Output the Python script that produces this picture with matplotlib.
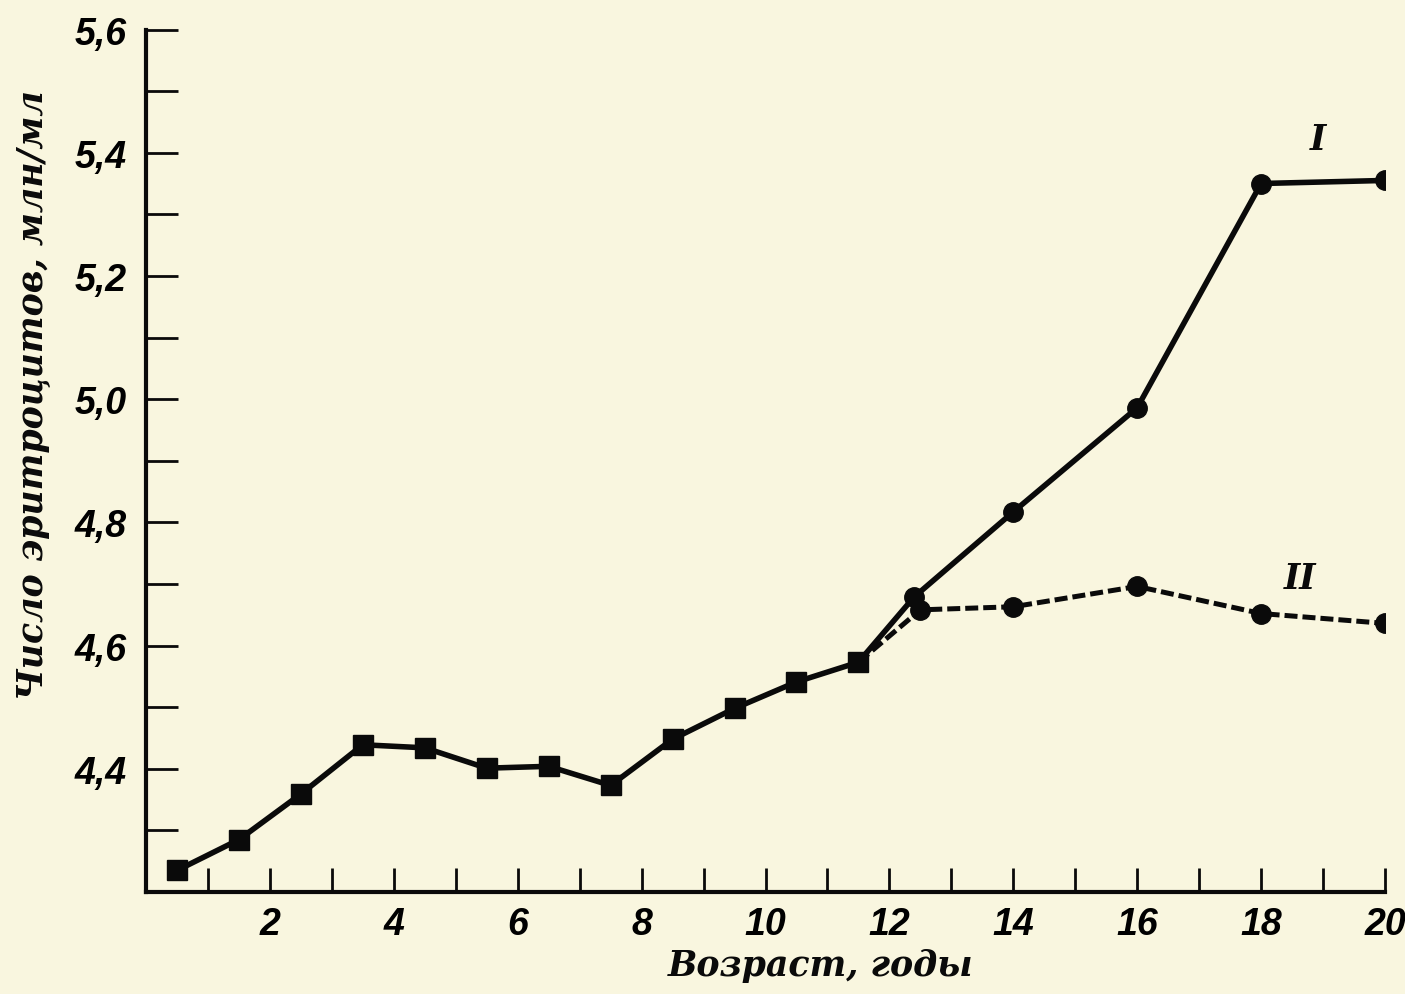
import matplotlib
matplotlib.use("Agg")
import matplotlib.pyplot as plt

# Data (age in years, erythrocytes mln/ml)
age_common = [0.5, 1.5, 2.5, 3.5, 4.5, 5.5, 6.5, 7.5, 8.5, 9.5, 10.5, 11.5]
rbc_common = [4.235, 4.285, 4.359, 4.439, 4.434, 4.401, 4.404, 4.373, 4.448, 4.498, 4.541, 4.573]

age_I = [11.5, 12.4, 14, 16, 18, 20]
rbc_I = [4.573, 4.679, 4.817, 4.986, 5.350, 5.355]

age_II = [11.5, 12.5, 14, 16, 18, 20]
rbc_II = [4.573, 4.658, 4.663, 4.696, 4.652, 4.636]

x_major = [2, 4, 6, 8, 10, 12, 14, 16, 18, 20]
x_minor = list(range(1, 21))
x_labels = ["2", "4", "6", "8", "10", "12", "14", "16", "18", "20"]
y_major = [4.4, 4.6, 4.8, 5.0, 5.2, 5.4, 5.6]
y_minor = [4.3, 4.4, 4.5, 4.6, 4.7, 4.8, 4.9, 5.0, 5.1, 5.2, 5.3, 5.4, 5.5, 5.6]
y_labels = ["4,4", "4,6", "4,8", "5,0", "5,2", "5,4", "5,6"]

series_labels = ["I", "II"]
xlabel = "Возраст, годы"
ylabel = "Число эритроцитов, млн/мл"

bg = "#f9f6df"
ink = "#0a0a0a"

fig = plt.figure(figsize=(14.05, 9.95), dpi=100, facecolor=bg)
ax = fig.add_axes([146/1405, 1-893/995, (1385-146)/1405, (893-30.5)/995])
ax.set_facecolor(bg)

ax.plot(age_II, rbc_II, color=ink, lw=3.6, ls=(0, (2.6, 1.0)), marker="o", ms=14,
        markerfacecolor=ink, markeredgecolor=ink, zorder=3)
ax.plot(age_I, rbc_I, color=ink, lw=4.0, marker="o", ms=14,
        markerfacecolor=ink, markeredgecolor=ink, zorder=4)
ax.plot(age_common, rbc_common, color=ink, lw=4.0, marker="s", ms=15,
        markerfacecolor=ink, markeredgecolor=ink, zorder=5)

ax.set_xlim(0, 20)
ax.set_ylim(4.2, 5.6)

for s in ["top", "right"]:
    ax.spines[s].set_visible(False)
for s in ["left", "bottom"]:
    ax.spines[s].set_linewidth(3.0)
    ax.spines[s].set_color(ink)
    ax.spines[s].set_capstyle("projecting")

tick_font = dict(family="Liberation Sans", weight="bold", style="italic", size=27)

ax.set_xticks(x_minor, minor=True)
ax.set_xticks(x_major)
ax.set_xticklabels(x_labels, fontdict=tick_font)
ax.set_yticks(y_minor, minor=True)
ax.set_yticks(y_major)
ax.set_yticklabels(y_labels, fontdict=tick_font)

ax.tick_params(axis="x", which="both", direction="in", length=17, width=2.0,
               color=ink, pad=10)
ax.tick_params(axis="y", which="both", direction="in", length=23, width=2.0,
               color=ink, pad=14)

lab_font = dict(family="DejaVu Serif", weight="bold", style="italic", size=25, color=ink)
fig.text(821/1405, 1-966/995, xlabel, ha="center", va="center", **lab_font)
fig.text(33/1405, 1-395/995, ylabel, ha="center", va="center", rotation=90, **lab_font)

ax.text(18.92, 5.422, series_labels[0], ha="center", va="center", **lab_font)
ax.text(18.63, 4.71, series_labels[1], ha="center", va="center", **lab_font)

fig.savefig("out.png", dpi=100, facecolor=bg)
